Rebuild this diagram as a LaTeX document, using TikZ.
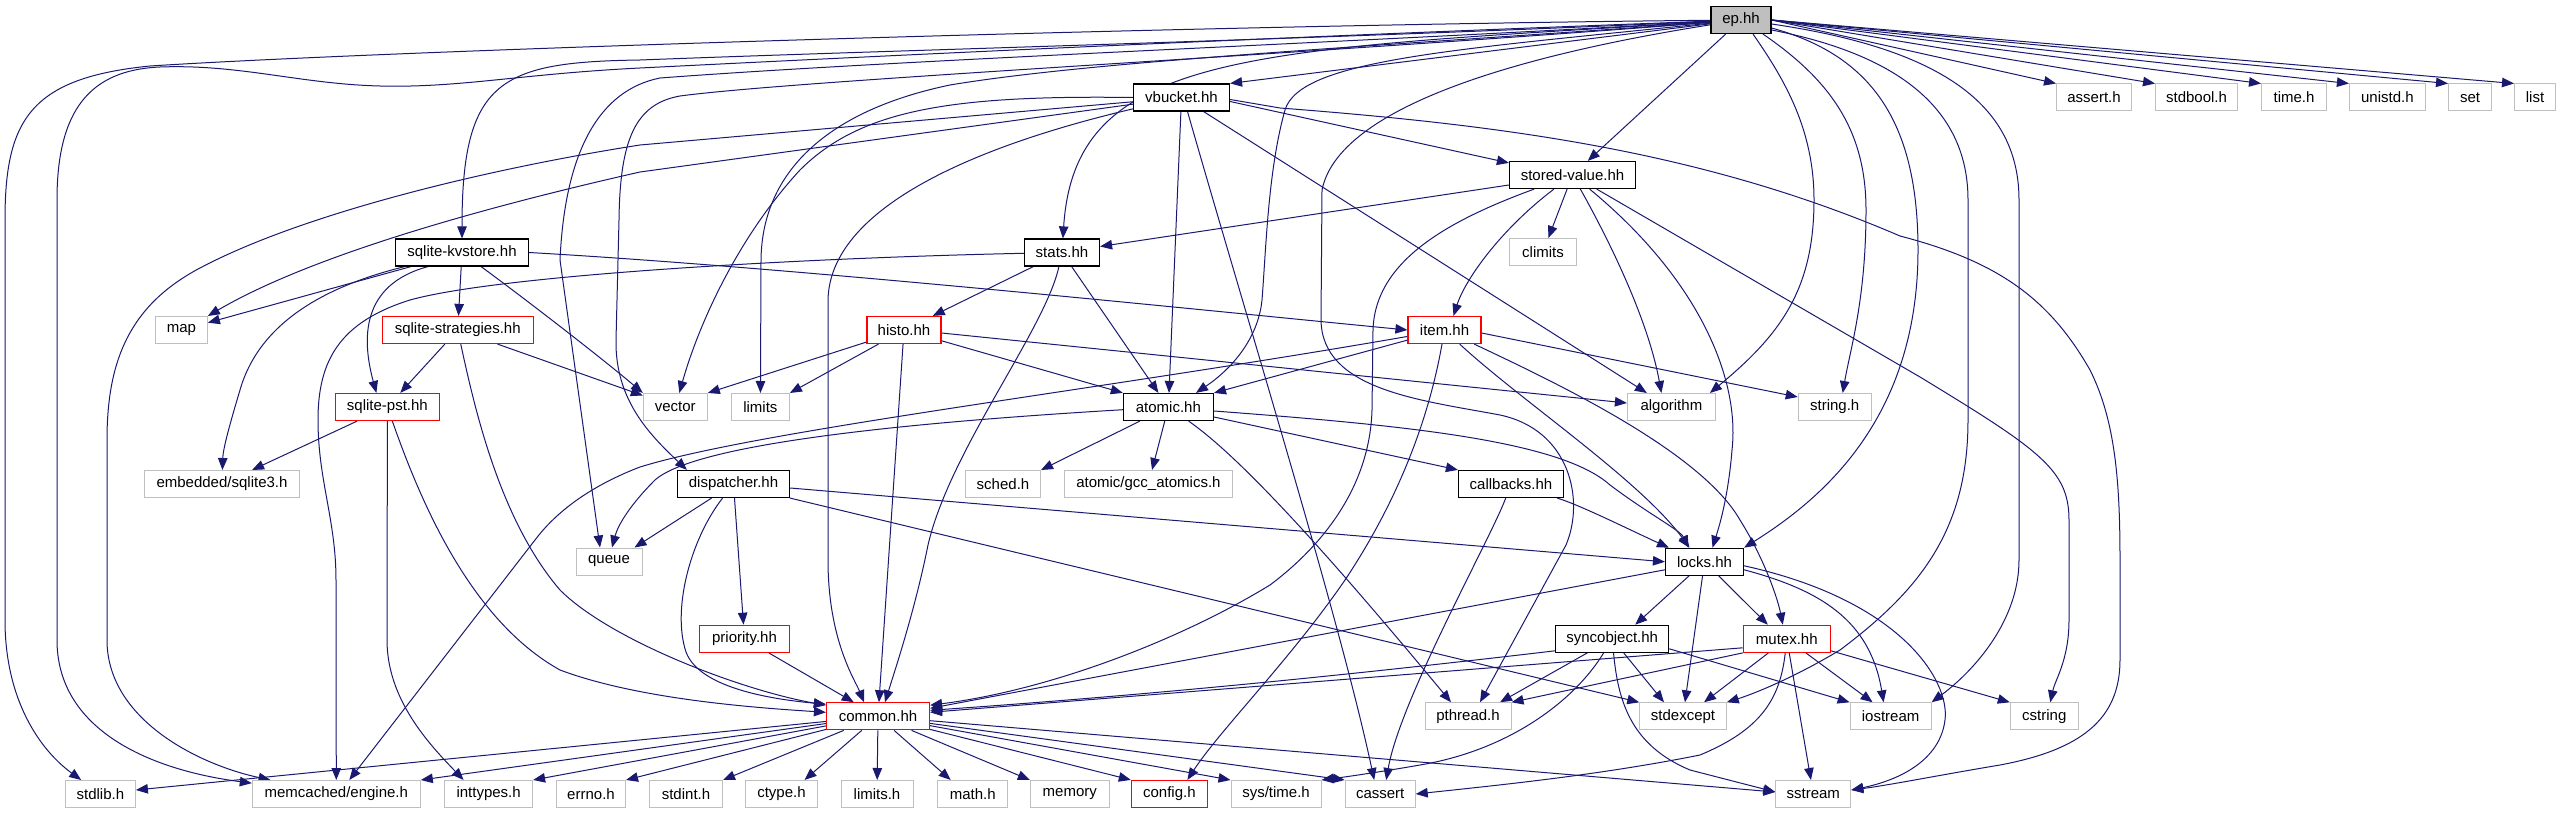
\documentclass[tikz,border=0pt]{standalone}
\usepackage{fontspec}
\newfontfamily\labfont{Liberation Sans}
\usetikzlibrary{arrows.meta,calc}
\definecolor{edgecol}{RGB}{25,25,112}
\definecolor{sysgray}{RGB}{191,191,191}
\pgfdeclarelayer{bg}
\pgfsetlayers{bg,main}
\begin{document}
\begin{tikzpicture}[x=1pt,y=-1pt,
  box/.style={draw=black,line width=1.2pt,fill=white,minimum height=27pt,inner sep=0pt,font=\labfont\fontsize{15}{18}\selectfont},
  sysbox/.style={box,draw=sysgray,line width=1pt},
  redbox/.style={box,draw=red},
  curbox/.style={box,fill=sysgray},
  link/.style={draw=edgecol,line width=1pt,-{Triangle[length=12pt,width=9.5pt]}}]
\useasboundingbox (0,0) rectangle (2560,813);
% nodes
\node[curbox,minimum width=60pt] (ep) at (1741,20) {ep.hh};
\node[box,minimum width=96pt] (vb) at (1181.5,97.5) {vbucket.hh};
\node[sysbox,minimum width=75pt] (assertH) at (2094,97.5) {assert.h};
\node[sysbox,minimum width=82pt] (stdbool) at (2196.5,97.5) {stdbool.h};
\node[sysbox,minimum width=65pt] (timeH) at (2294,97.5) {time.h};
\node[sysbox,minimum width=76pt] (unistd) at (2387.4,97.5) {unistd.h};
\node[sysbox,minimum width=43pt] (setH) at (2470,97.5) {set};
\node[sysbox,minimum width=41pt] (listH) at (2535,97.5) {list};
\node[box,minimum width=126pt] (sv) at (1572.5,175) {stored-value.hh};
\node[box,minimum width=133pt] (kv) at (462,252.5) {sqlite-kvstore.hh};
\node[box,minimum width=75pt] (stats) at (1062,252.5) {stats.hh};
\node[sysbox,minimum width=67pt] (climits) at (1543,252) {climits};
\node[sysbox,minimum width=52pt] (map) at (181.4,330) {map};
\node[redbox,minimum width=151pt] (strat) at (457.7,330) {sqlite-strategies.hh};
\node[redbox,minimum width=74pt] (histo) at (904,330) {histo.hh};
\node[redbox,minimum width=73pt] (item) at (1444.5,330) {item.hh};
\node[redbox,minimum width=104pt] (pst) at (387.4,407) {sqlite-pst.hh};
\node[sysbox,minimum width=64pt] (vector) at (675.3,407) {vector};
\node[sysbox,minimum width=58pt] (limits) at (760.4,407) {limits};
\node[box,minimum width=90pt] (atomic) at (1168.4,407) {atomic.hh};
\node[sysbox,minimum width=88pt] (algo) at (1671.4,407) {algorithm};
\node[sysbox,minimum width=73pt] (stringH) at (1834.7,407) {string.h};
\node[sysbox,minimum width=155pt] (emb) at (222,484) {embedded/sqlite3.h};
\node[box,minimum width=112pt] (disp) at (733.5,484) {dispatcher.hh};
\node[sysbox,minimum width=75pt] (sched) at (1003,484) {sched.h};
\node[sysbox,minimum width=168pt] (gcc) at (1148.4,484) {atomic/gcc\_atomics.h};
\node[box,minimum width=105pt] (cb) at (1511,484) {callbacks.hh};
\node[sysbox,minimum width=66pt] (queue) at (609,561.5) {queue};
\node[box,minimum width=78pt] (locks) at (1704.5,561.8) {locks.hh};
\node[redbox,minimum width=90pt] (prio) at (744.5,638.8) {priority.hh};
\node[box,minimum width=113pt] (sync) at (1612.2,638.8) {syncobject.hh};
\node[redbox,minimum width=87pt] (mutex) at (1786.8,638.8) {mutex.hh};
\node[redbox,minimum width=103pt] (common) at (878,716.3) {common.hh};
\node[sysbox,minimum width=86pt] (pthread) at (1468,716.3) {pthread.h};
\node[sysbox,minimum width=86.5pt] (stdexc) at (1683,716.3) {stdexcept};
\node[sysbox,minimum width=81pt] (iostream) at (1890.6,716.3) {iostream};
\node[sysbox,minimum width=68pt] (cstring) at (2044.3,716.3) {cstring};
\node[sysbox,minimum width=70pt] (stdlib) at (100.4,794) {stdlib.h};
\node[sysbox,minimum width=168pt] (memc) at (336.3,794) {memcached/engine.h};
\node[sysbox,minimum width=88pt] (inttypes) at (488.6,794) {inttypes.h};
\node[sysbox,minimum width=69pt] (errno) at (591,794) {errno.h};
\node[sysbox,minimum width=73pt] (stdint) at (686,794) {stdint.h};
\node[sysbox,minimum width=72pt] (ctype) at (781.5,794) {ctype.h};
\node[sysbox,minimum width=72pt] (limitsH) at (877,794) {limits.h};
\node[sysbox,minimum width=70pt] (math) at (972.7,794) {math.h};
\node[sysbox,minimum width=79pt] (memory) at (1069.8,794) {memory};
\node[redbox,minimum width=76pt] (config) at (1169.4,794) {config.h};
\node[sysbox,minimum width=90pt] (systime) at (1276,794) {sys/time.h};
\node[sysbox,minimum width=70pt] (cassert) at (1380.2,794) {cassert};
\node[sysbox,minimum width=75pt] (sstream) at (1813.3,794) {sstream};
\begin{pgfonlayer}{bg}
% ep.hh
\foreach \t in {assertH,stdbool,timeH,unistd,setH,listH}{\draw[link] (ep.east) -- (\t.north west);}
\draw[link] (ep) -- (vb.north east);
\draw[link] (ep) -- (sv);
\draw[link] (ep) .. controls (1250,50) and (1075,50) .. (stats);
\draw[link] (ep) .. controls (1300,40) and (900,50) .. (640,60) .. controls (500,62) and (462,80) .. (kv);
\draw[link] (ep) .. controls (1200,25) and (400,50) .. (150,66) .. controls (30,78) and (5,120) .. (5,220) -- (5,620) .. controls (5,700) and (40,750) .. (stdlib);
\draw[link] (ep) .. controls (1200,40) and (800,60) .. (640,68) .. controls (520,74) and (460,88) .. (380,86) .. controls (300,84) and (240,64) .. (160,67) .. controls (90,70) and (57,110) .. (57,200) -- (57,640) .. controls (57,730) and (150,770) .. (memc);
\draw[link] (ep) .. controls (1300,45) and (900,60) .. (660,78) .. controls (600,90) and (565,150) .. (560,260) -- ([xshift=-9pt]queue.north);
\draw[link] (ep) .. controls (1300,55) and (800,80) .. (680,96) .. controls (635,104) and (620,140) .. (619,220) -- (616,340) .. controls (615,400) and (650,435) .. ([xshift=10pt]disp.north west);
\draw[link] (ep) .. controls (1400,45) and (1100,60) .. (950,85) .. controls (830,110) and (762,170) .. (761,260) -- (limits);
\draw[link] (ep) .. controls (1450,50) and (1300,60) .. (1285,110) .. controls (1268,170) and (1266,250) .. (1262,300) .. controls (1258,340) and (1230,370) .. ([xshift=-18pt]atomic.north east);
\draw[link] (ep) .. controls (1550,50) and (1340,100) .. (1322,190) -- (1321,320) .. controls (1322,390) and (1420,400) .. (1500,415) .. controls (1570,430) and (1585,500) .. (1566,545) -- ([xshift=12pt]pthread.north);
\draw[link] ([xshift=12pt]ep.south) .. controls (1785,80) and (1814,130) .. (1814,200) .. controls (1814,290) and (1780,335) .. ([xshift=-6pt]algo.north east);
\draw[link] ([xshift=22pt]ep.south) .. controls (1830,80) and (1866,130) .. (1866,210) .. controls (1866,300) and (1850,350) .. ([xshift=8pt]stringH.north);
\draw[link] ([yshift=-8pt]ep.east) .. controls (1870,55) and (1918,120) .. (1918,250) .. controls (1918,420) and (1820,500) .. (locks.north east);
\draw[link] ([yshift=-10pt]ep.east) .. controls (1900,55) and (1968,110) .. (1968,200) -- (1968,420) .. controls (1968,530) and (1920,590) .. (1840,650) .. controls (1790,680) and (1750,695) .. (stdexc.north east);
\draw[link] ([yshift=-4pt]ep.east) .. controls (1950,50) and (2019,110) .. (2019,200) -- (2019,560) .. controls (2019,620) and (1975,670) .. (iostream.north east);
% vbucket.hh
\draw[link] (vb) -- (640,145) .. controls (480,170) and (300,215) .. (200,268) .. controls (130,305) and (107,360) .. (107,440) -- (107,640) .. controls (107,720) and (200,765) .. (memc);
\draw[link] (vb) -- (640,172) .. controls (450,215) and (300,262) .. (map.north east);
\draw[link] (vb.west) .. controls (950,95) and (860,110) .. (800,170) .. controls (740,235) and (700,320) .. (vector);
\draw[link] ([yshift=-4pt]vb.east) -- ([yshift=-2pt]sv.north west);
\draw[link] ([yshift=-2pt]vb.east) -- (1280,108) .. controls (1500,125) and (1700,150) .. (1900,236) .. controls (2000,262) and (2050,300) .. (2090,370) .. controls (2115,420) and (2120,480) .. (2120,560) -- (2120,660) .. controls (2120,720) and (2080,750) .. (2000,765) .. controls (1940,775) and (1890,785) .. ([yshift=4pt]sstream.east);
\draw[link] (vb) -- ([xshift=20pt]algo.north west);
\draw[link] (vb) -- (atomic);
\draw[link] ([xshift=6pt]vb.south) .. controls (1250,330) and (1340,620) .. ([xshift=-6pt]cassert.north);
\draw[link] (vb) .. controls (1000,140) and (830,200) .. (828,300) -- (828,560) .. controls (828,640) and (855,680) .. ([xshift=-14pt]common.north);
% stats.hh
\draw[link] (stats) .. controls (800,258) and (500,275) .. (410,300) .. controls (340,322) and (318,360) .. (318,420) .. controls (318,480) and (336,520) .. (336,580) -- (memc);
\draw[link] (stats) -- (histo);
\draw[link] (stats) .. controls (1045,330) and (950,450) .. (928,545) .. controls (915,610) and (895,670) .. ([xshift=7pt]common.north);
\draw[link] (stats) -- ([xshift=-10pt]atomic.north);
% stored-value.hh
\draw[link] ([yshift=-10pt]sv.west) -- ([yshift=6pt]stats.east);
\draw[link] (sv) .. controls (1500,230) and (1465,280) .. ([xshift=9pt]item.north);
\draw[link] (sv) -- (climits);
\draw[link] (sv) .. controls (1620,260) and (1650,330) .. ([xshift=-10pt]algo.north);
\draw[link] (sv) .. controls (1700,280) and (1740,380) .. (1732,450) .. controls (1728,500) and (1718,530) .. ([xshift=8pt]locks.north);
\draw[link] (sv) -- (1920,377) .. controls (2040,450) and (2069,470) .. (2069,520) -- (2069,620) .. controls (2069,660) and (2055,680) .. ([xshift=6pt]cstring.north);
\draw[link] (sv) .. controls (1450,220) and (1375,260) .. (1373,330) -- (1372,410) .. controls (1370,480) and (1330,540) .. (1270,585) .. controls (1180,640) and (1050,690) .. ([yshift=-3pt]common.north east);
% sqlite-kvstore.hh
\draw[link] (kv) -- (map);
\draw[link] (kv) -- (strat);
\draw[link] ([xshift=-34pt]kv.south) .. controls (360,285) and (362,340) .. ([xshift=-11pt]pst.north);
\draw[link] (kv) .. controls (330,285) and (260,320) .. (240,390) .. controls (228,430) and (223,450) .. (emb);
\draw[link] (kv) .. controls (540,310) and (610,365) .. (vector.north west);
\draw[link] (kv.east) .. controls (800,268) and (1200,310) .. (item.west);
% sqlite-strategies.hh
\draw[link] (strat) -- (pst);
\draw[link] (strat) -- (vector);
\draw[link] (strat) .. controls (475,410) and (500,520) .. (560,590) .. controls (610,640) and (740,690) .. ([yshift=-3pt]common.north west);
% sqlite-pst.hh
\draw[link] (pst) -- (emb);
\draw[link] (pst.south) -- (387,640) .. controls (387,700) and (430,745) .. ([xshift=-25pt]inttypes.north);
\draw[link] (pst) .. controls (420,500) and (470,620) .. (560,670) .. controls (640,700) and (760,708) .. ([yshift=4pt]common.west);
% histo.hh
\draw[link] (histo) -- (vector.north east);
\draw[link] (histo) -- (limits.north east);
\draw[link] (histo) -- (atomic.north west);
\draw[link] (histo) -- (common);
\draw[link] ([yshift=-3pt]histo.east) -- ([yshift=4pt]algo.west);
% item.hh
\draw[link] (item) -- (atomic.north east);
\draw[link] (item) .. controls (1100,390) and (760,430) .. (640,467) .. controls (580,490) and (550,520) .. (535,540) -- ([xshift=13pt]memc.north);
\draw[link] ([yshift=-3pt]item.east) -- ([yshift=-4pt]stringH.north west);
\draw[link] (item) .. controls (1425,440) and (1385,520) .. (1345,580) .. controls (1290,660) and (1220,730) .. ([xshift=18pt]config.north);
\draw[link] (item) .. controls (1520,400) and (1640,480) .. ([xshift=-15pt]locks.north);
\draw[link] (item) .. controls (1550,380) and (1700,450) .. (1740,520) .. controls (1765,560) and (1778,600) .. ([xshift=-4pt]mutex.north);
% atomic.hh
\draw[link] (atomic) .. controls (950,420) and (700,440) .. (655,480) .. controls (630,505) and (618,525) .. ([xshift=3pt]queue.north);
\draw[link] (atomic) -- (sched.north east);
\draw[link] (atomic) -- (gcc);
\draw[link] (atomic) .. controls (1230,450) and (1300,520) .. ([xshift=-17pt]pthread.north);
\draw[link] ([yshift=-4pt]atomic.east) .. controls (1400,425) and (1560,440) .. (1610,485) .. controls (1650,515) and (1680,530) .. ([xshift=-16pt]locks.north);
\draw[link] ([yshift=-10pt]atomic.east) -- (cb.north west);
% dispatcher.hh
\draw[link] (disp) -- ([xshift=-8pt]queue.north east);
\draw[link] (disp) .. controls (690,540) and (672,610) .. (686,652) .. controls (700,690) and (780,700) .. ([yshift=-2pt]common.north west);
\draw[link] (disp) -- (prio);
\draw[link] ([yshift=-4pt]disp.east) -- (locks.west);
\draw[link] (disp.south east) -- (stdexc.north west);
% priority.hh
\draw[link] (prio) -- (common);
% callbacks.hh
\draw[link] (cb) .. controls (1580,505) and (1630,530) .. ([xshift=4pt]locks.north west);
\draw[link] (cb) .. controls (1490,540) and (1400,700) .. ([xshift=6pt]cassert.north);
% locks.hh
\draw[link] (locks) -- ([xshift=23pt]sync.north);
\draw[link] (locks) -- (stdexc);
\draw[link] (locks) -- ([xshift=-19pt]mutex.north);
\draw[link] ([yshift=-8pt]locks.east) .. controls (1820,590) and (1870,620) .. ([xshift=-7pt]iostream.north);
\draw[link] ([yshift=-4pt]locks.east) .. controls (1900,600) and (1950,680) .. (1945,720) .. controls (1940,760) and (1900,780) .. ([yshift=4pt]sstream.east);
\draw[link] ([yshift=-8pt]locks.west) -- ([yshift=8pt]common.east);
% syncobject.hh
\draw[link] (sync) -- ([xshift=32pt]pthread.north);
\draw[link] (sync) -- ([xshift=-19pt]stdexc.north);
\draw[link] ([yshift=-10pt]sync.east) -- (iostream.north west);
\draw[link] (sync) .. controls (1618,700) and (1630,745) .. (1690,770) -- ([yshift=2pt]sstream.west);
\draw[link] (sync) .. controls (1575,700) and (1510,750) .. (1420,765) .. controls (1380,772) and (1345,777) .. (systime.north east);
\draw[link] ([yshift=-12pt]sync.west) .. controls (1350,675) and (1150,695) .. ([yshift=6pt]common.east);
% mutex.hh
\draw[link] ([yshift=-9pt]mutex.west) -- ([yshift=4pt]common.east);
\draw[link] (mutex.south west) -- (pthread.north east);
\draw[link] (mutex) -- ([xshift=21pt]stdexc.north);
\draw[link] (mutex) -- ([xshift=-18pt]iostream.north);
\draw[link] (mutex) -- (sstream);
\draw[link] ([yshift=-12pt]mutex.east) -- (cstring.north west);
\draw[link] (mutex) .. controls (1780,700) and (1760,730) .. (1700,755) .. controls (1600,775) and (1500,785) .. (cassert.east);
% common.hh
\draw[link] (common) -- ([yshift=4pt]stdlib.east);
\draw[link] (common) -- (memc.north east);
\draw[link] (common) -- (inttypes.north east);
\draw[link] (common) -- (errno.north east);
\draw[link] (common) -- (stdint.north east);
\draw[link] (common) -- ([xshift=23pt]ctype.north);
\draw[link] (common) -- (limitsH);
\draw[link] (common) -- ([xshift=-22pt]math.north);
\draw[link] (common) -- (memory.north west);
\draw[link] (common) -- (config.north west);
\draw[link] (common) -- (systime.north west);
\draw[link] (common) -- (cassert.north west);
\draw[link] (common) -- ([yshift=2pt]sstream.west);
\end{pgfonlayer}
\end{tikzpicture}
\end{document}
